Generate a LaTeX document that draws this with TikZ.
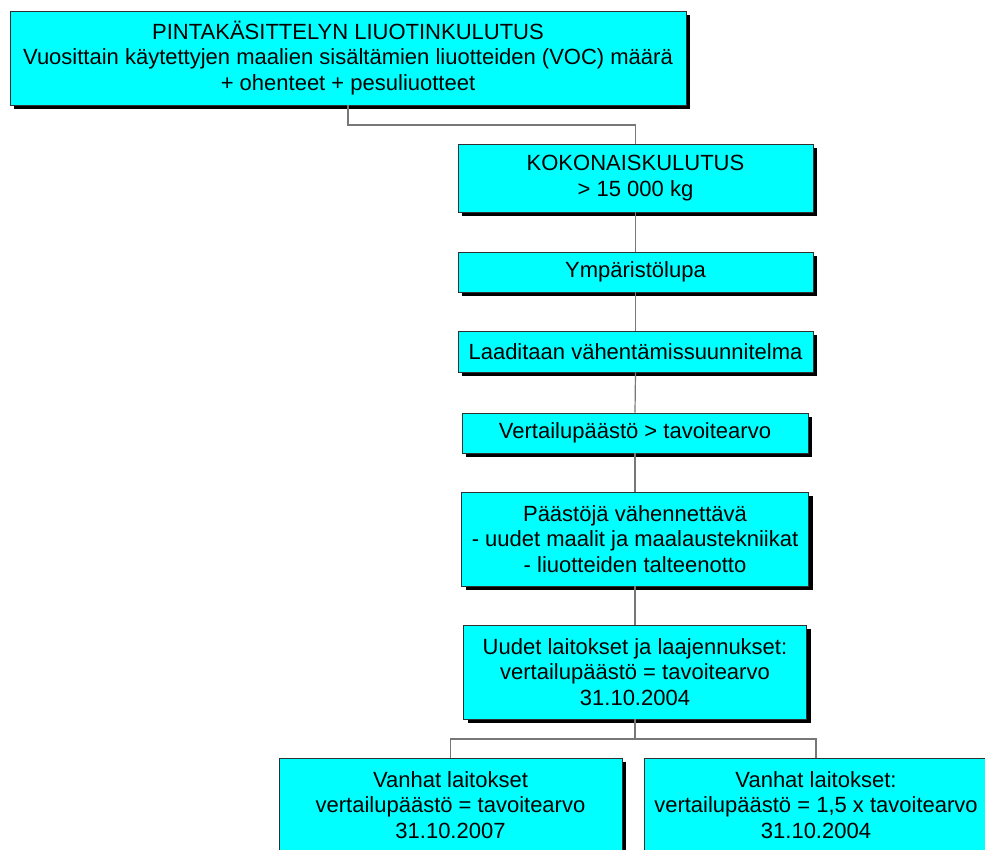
\documentclass[tikz,border=0pt]{standalone}
\usepackage{fontspec}
\setmainfont{Liberation Sans}
\usetikzlibrary{shadows}
\definecolor{boxcyan}{HTML}{00FFFF}
\definecolor{linegray}{HTML}{777777}
\definecolor{edgegray}{HTML}{303030}
\tikzset{
  box/.style={draw=edgegray, line width=0.8pt, fill=boxcyan, align=center, inner sep=0pt,
    font=\fontsize{22}{25.5}\selectfont,
    drop shadow={shadow xshift=4pt, shadow yshift=-4pt, fill=black, opacity=1}},
  conn/.style={draw=linegray, line width=1.2pt}
}
\begin{document}
\begin{tikzpicture}[x=1pt,y=1pt]
\useasboundingbox (0,0) rectangle (985,850);
\fill[white] (0,0) rectangle (985,850);

\node[box, minimum width=676pt, minimum height=94pt] (b1) at (348,792)
  {PINTAKÄSITTELYN LIUOTINKULUTUS\\Vuosittain käytettyjen maalien sisältämien liuotteiden (VOC) määrä\\+ ohenteet + pesuliuotteet};
\node[box, minimum width=355pt, minimum height=68pt] (b2) at (635.5,672)
  {KOKONAISKULUTUS\\> 15 000 kg};
\node[box, minimum width=355pt, minimum height=40pt] (b3) at (635.5,578)
  {Ympäristölupa};
\node[box, minimum width=355pt, minimum height=41pt] (b4) at (635.5,498.5)
  {Laaditaan vähentämissuunnitelma};
\node[box, minimum width=346pt, minimum height=40pt] (b5) at (635,417)
  {Vertailupäästö > tavoitearvo};
\node[box, minimum width=347pt, minimum height=94pt] (b6) at (635,311)
  {Päästöjä vähennettävä\\- uudet maalit ja maalaustekniikat\\- liuotteiden talteenotto};
\node[box, minimum width=343pt, minimum height=94pt] (b7) at (635,178)
  {Uudet laitokset ja laajennukset:\\vertailupäästö = tavoitearvo\\31.10.2004};
\node[box, minimum width=343pt, minimum height=94pt] (b8) at (450.5,45)
  {Vanhat laitokset\\vertailupäästö = tavoitearvo\\31.10.2007};
\node[box, minimum width=344pt, minimum height=94pt] (b9) at (816,45)
  {Vanhat laitokset:\\vertailupäästö = 1,5 x tavoitearvo\\31.10.2004};

\coordinate (j1) at (0,725);
\coordinate (j2) at (0,111);

\draw[conn] (b1.south) |- (b2.north |- j1) -- (b2.north);
\draw[conn] (b2.south) -- (b3.north);
\draw[conn] (b3.south) -- (b4.north);
\draw[conn] (b4.south) -- (b5.north);
\draw[conn] (b5.south) -- (b6.north);
\draw[conn] (b6.south) -- (b7.north);
\draw[conn] (b7.south) -- (b7.south |- j2) -| (b8.north);
\draw[conn] (b7.south |- j2) -| (b9.north);
\end{tikzpicture}
\end{document}
